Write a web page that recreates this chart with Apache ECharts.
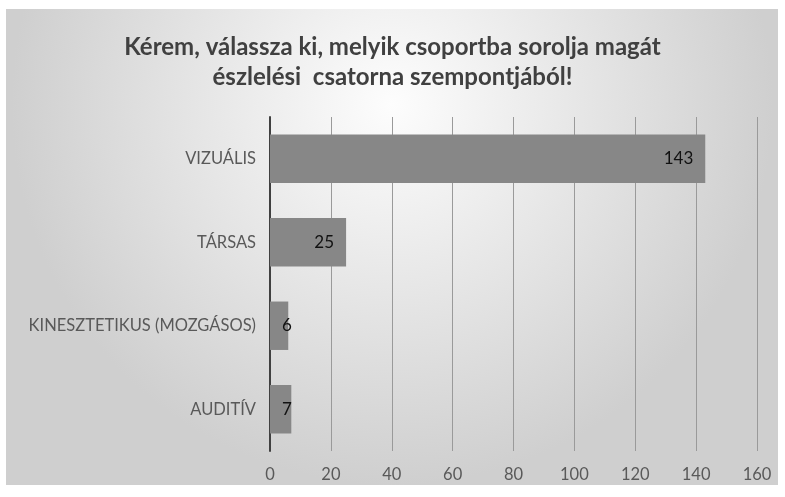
<!DOCTYPE html>
<html>
<head>
<meta charset="utf-8">
<script src="https://cdn.jsdelivr.net/npm/echarts@6/dist/echarts.min.js"></script>
<style>
  html, body { margin: 0; padding: 0; background: #fff; }
  #chart { width: 785px; height: 497px; }
</style>
</head>
<body>
<div id="chart"></div>
<script>
// adatok
var categories = ['AUDITÍV', 'KINESZTETIKUS (MOZGÁSOS)', 'TÁRSAS', 'VIZUÁLIS'];
var values = [7, 6, 25, 143];
var xTicks = [0, 20, 40, 60, 80, 100, 120, 140, 160];

var myChart = echarts.init(document.getElementById('chart'));

// a rövid oszlopoknál a címke az elejére kerül
var barData = values.map(function(v) {
	return {
		value: v,
		label: v < 10 ? { position: 'insideLeft', distance: 12 } : { position: 'insideRight', distance: 12 }
	};
});

var option = {
	animation: false,
	graphic: [{
		type: 'rect',
		left: 6,
		top: 9,
		z: -10,
		shape: { width: 772, height: 476 },
		style: {
			fill: new echarts.graphic.RadialGradient(0.5, 0.2, 0.8, [
				{ offset: 0, color: '#fdfdfd' },
				{ offset: 1, color: '#cfcfcf' }
			])
		}
	}],
	title: {
		text: 'Kérem, válassza ki, melyik csoportba sorolja magát\nészlelési  csatorna szempontjából!',
		left: 'center',
		top: 27,
		textStyle: {
			fontFamily: 'Lato',
			fontWeight: 'bold',
			fontSize: 24,
			lineHeight: 30,
			color: '#404040'
		}
	},
	grid: {
		left: 270,
		right: 28,
		top: 117,
		bottom: 46
	},
	xAxis: {
		type: 'value',
		min: xTicks[0],
		max: xTicks[xTicks.length - 1],
		interval: 20,
		axisLine: { show: false },
		axisTick: { show: false },
		splitLine: { lineStyle: { color: '#9a9a9a', width: 1 } },
		axisLabel: {
			margin: 15,
			fontFamily: 'Lato',
			fontSize: 16.5,
			color: '#595959'
		}
	},
	yAxis: {
		type: 'category',
		data: categories,
		axisLine: { lineStyle: { color: '#404040', width: 2 } },
		axisTick: { show: false },
		axisLabel: {
			margin: 14,
			fontFamily: 'Lato',
			fontSize: 16.5,
			color: '#595959'
		}
	},
	series: [{
		type: 'bar',
		data: barData,
		barCategoryGap: '42%',
		itemStyle: { color: '#878787' },
		label: {
			show: true,
			color: '#111',
			fontFamily: 'Lato',
			fontSize: 17
		}
	}]
};

myChart.setOption(option);
window.addEventListener('resize', function() {
	myChart.resize();
});
</script>
</body>
</html>
